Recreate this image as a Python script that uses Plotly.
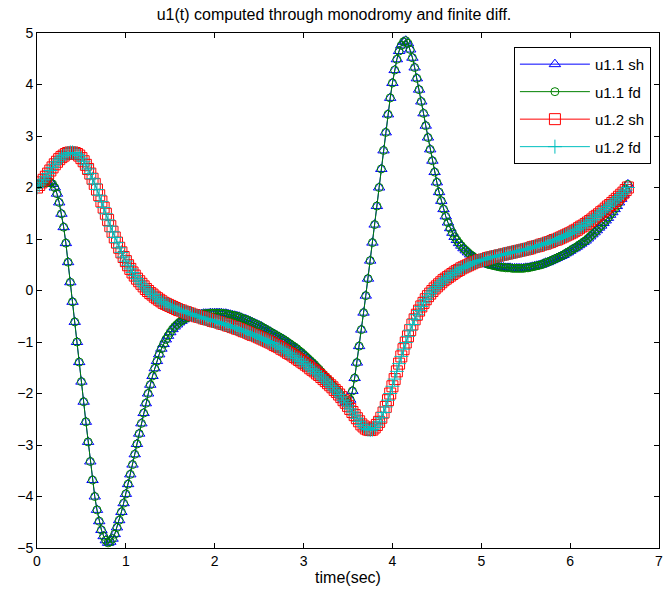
import numpy as np
import plotly.graph_objects as go

# sampling step of the time axis (seconds)
t_step = 0.025

# u1.1 (shooting / finite differences overlap)
u11 = [
    2.05, 2.06, 2.08, 2.09, 2.10, 2.10, 2.10, 2.07,
    2.00, 1.88, 1.71, 1.49, 1.23, 0.92, 0.55, 0.16,
    -0.22, -0.61, -1.00, -1.39, -1.77, -2.16, -2.55, -2.94,
    -3.32, -3.68, -4.00, -4.26, -4.48, -4.65, -4.77, -4.85,
    -4.90, -4.88, -4.82, -4.73, -4.60, -4.46, -4.30, -4.13,
    -3.95, -3.76, -3.57, -3.38, -3.18, -2.98, -2.78, -2.58,
    -2.38, -2.19, -2.00, -1.83, -1.66, -1.51, -1.37, -1.24,
    -1.13, -1.04, -0.95, -0.88, -0.81, -0.75, -0.70, -0.66,
    -0.62, -0.59, -0.56, -0.54, -0.52, -0.50, -0.49, -0.48,
    -0.47, -0.46, -0.46, -0.45, -0.45, -0.45, -0.44, -0.44,
    -0.44, -0.44, -0.44, -0.44, -0.45, -0.45, -0.46, -0.47,
    -0.48, -0.49, -0.50, -0.51, -0.53, -0.55, -0.56, -0.58,
    -0.60, -0.62, -0.64, -0.66, -0.68, -0.70, -0.73, -0.75,
    -0.78, -0.80, -0.83, -0.85, -0.88, -0.90, -0.93, -0.95,
    -0.98, -1.01, -1.04, -1.07, -1.10, -1.13, -1.17, -1.20,
    -1.24, -1.28, -1.32, -1.36, -1.40, -1.44, -1.49, -1.53,
    -1.58, -1.63, -1.68, -1.73, -1.78, -1.83, -1.88, -1.93,
    -1.98, -2.04, -2.10, -2.16, -2.18, -2.12, -1.95, -1.70,
    -1.40, -1.08, -0.76, -0.43, -0.10, 0.23, 0.58, 0.93,
    1.28, 1.64, 2.00, 2.36, 2.72, 3.07, 3.42, 3.74,
    4.03, 4.28, 4.49, 4.65, 4.76, 4.83, 4.85, 4.80,
    4.68, 4.52, 4.33, 4.12, 3.90, 3.67, 3.44, 3.20,
    2.97, 2.74, 2.52, 2.30, 2.10, 1.91, 1.74, 1.58,
    1.44, 1.32, 1.21, 1.12, 1.04, 0.98, 0.92, 0.87,
    0.82, 0.78, 0.74, 0.70, 0.67, 0.64, 0.61, 0.59,
    0.57, 0.55, 0.53, 0.51, 0.50, 0.49, 0.48, 0.47,
    0.46, 0.45, 0.45, 0.44, 0.44, 0.44, 0.43, 0.43,
    0.43, 0.43, 0.43, 0.43, 0.44, 0.44, 0.45, 0.46,
    0.47, 0.48, 0.49, 0.50, 0.52, 0.54, 0.55, 0.57,
    0.59, 0.61, 0.63, 0.65, 0.67, 0.69, 0.72, 0.74,
    0.77, 0.80, 0.82, 0.85, 0.88, 0.91, 0.94, 0.97,
    1.01, 1.05, 1.09, 1.13, 1.17, 1.22, 1.26, 1.31,
    1.36, 1.41, 1.47, 1.52, 1.58, 1.64, 1.71, 1.78,
    1.86, 1.96, 2.06,
]

# u1.2 (shooting / finite differences overlap)
u12 = [
    2.00, 2.05, 2.10, 2.15, 2.21, 2.27, 2.33, 2.39,
    2.45, 2.50, 2.55, 2.59, 2.62, 2.65, 2.67, 2.68,
    2.68, 2.67, 2.65, 2.62, 2.57, 2.51, 2.44, 2.36,
    2.27, 2.17, 2.07, 1.96, 1.85, 1.73, 1.61, 1.49,
    1.37, 1.25, 1.14, 1.03, 0.93, 0.83, 0.74, 0.65,
    0.57, 0.49, 0.42, 0.35, 0.29, 0.23, 0.18, 0.13,
    0.08, 0.03, -0.01, -0.05, -0.08, -0.12, -0.15, -0.18,
    -0.21, -0.24, -0.26, -0.28, -0.30, -0.32, -0.34, -0.36,
    -0.38, -0.39, -0.41, -0.42, -0.44, -0.45, -0.47, -0.48,
    -0.50, -0.51, -0.52, -0.54, -0.55, -0.56, -0.57, -0.59,
    -0.60, -0.61, -0.62, -0.64, -0.65, -0.66, -0.68, -0.69,
    -0.71, -0.72, -0.74, -0.75, -0.77, -0.79, -0.80, -0.82,
    -0.84, -0.86, -0.87, -0.89, -0.91, -0.93, -0.95, -0.97,
    -0.99, -1.01, -1.03, -1.06, -1.08, -1.10, -1.13, -1.15,
    -1.18, -1.21, -1.23, -1.26, -1.29, -1.32, -1.35, -1.38,
    -1.41, -1.44, -1.47, -1.51, -1.54, -1.57, -1.61, -1.64,
    -1.68, -1.72, -1.76, -1.80, -1.84, -1.88, -1.93, -1.97,
    -2.02, -2.07, -2.13, -2.18, -2.24, -2.30, -2.36, -2.42,
    -2.48, -2.54, -2.60, -2.64, -2.68, -2.70, -2.71, -2.70,
    -2.66, -2.61, -2.55, -2.47, -2.37, -2.26, -2.13, -2.00,
    -1.86, -1.72, -1.57, -1.42, -1.28, -1.14, -1.01, -0.89,
    -0.77, -0.66, -0.56, -0.47, -0.39, -0.31, -0.24, -0.17,
    -0.11, -0.06, -0.01, 0.04, 0.08, 0.12, 0.16, 0.20,
    0.23, 0.26, 0.29, 0.32, 0.35, 0.38, 0.40, 0.43,
    0.45, 0.47, 0.49, 0.51, 0.53, 0.55, 0.56, 0.58,
    0.59, 0.60, 0.61, 0.63, 0.64, 0.65, 0.66, 0.67,
    0.68, 0.69, 0.70, 0.71, 0.72, 0.73, 0.74, 0.75,
    0.76, 0.77, 0.78, 0.79, 0.80, 0.81, 0.82, 0.84,
    0.85, 0.86, 0.87, 0.89, 0.90, 0.91, 0.93, 0.94,
    0.96, 0.98, 0.99, 1.01, 1.03, 1.05, 1.07, 1.09,
    1.11, 1.13, 1.16, 1.18, 1.21, 1.24, 1.26, 1.29,
    1.32, 1.35, 1.38, 1.42, 1.45, 1.48, 1.52, 1.55,
    1.59, 1.63, 1.66, 1.70, 1.74, 1.78, 1.82, 1.86,
    1.90, 1.95, 2.00,
]

series_names = ["u1.1 sh", "u1.1 fd", "u1.2 sh", "u1.2 fd"]
x_ticks = [0, 1, 2, 3, 4, 5, 6, 7]
y_ticks = [-5, -4, -3, -2, -1, 0, 1, 2, 3, 4, 5]

t11 = np.arange(len(u11)) * t_step
t12 = np.arange(len(u12)) * t_step

styles = [
    (t11, u11, "#0000ff", "triangle-up-open", 10),
    (t11, u11, "#008000", "circle-open", 8),
    (t12, u12, "#ff0000", "square-open", 11),
    (t12, u12, "#00bfbf", "cross-thin-open", 10),
]

fig = go.Figure()
for i, (name, (tx, uy, col, sym, sz)) in enumerate(zip(series_names, styles)):
    fig.add_trace(go.Scatter(
        x=tx, y=uy, name=name, mode="lines+markers",
        legendgroup=name,
        line=dict(color=col, width=1),
        marker=dict(symbol=sym, size=sz, color=col, line=dict(width=1, color=col)),
    ))

font_family = "Liberation Sans, Arial, sans-serif"
fig.update_layout(
    width=666, height=590,
    margin=dict(l=37, r=3, t=33, b=42),
    paper_bgcolor="white", plot_bgcolor="white",
    font=dict(family=font_family, size=14, color="black"),
    title=dict(text="u1(t) computed through monodromy and finite diff.",
               x=334 / 666, xanchor="center", y=1 - 14 / 590, yanchor="middle",
               font=dict(size=16, color="black")),
    showlegend=True,
    legend=dict(x=0.987, y=0.973, xanchor="right", yanchor="top",
                bgcolor="white", bordercolor="black", borderwidth=1,
                font=dict(size=15), itemwidth=70, tracegroupgap=5),
)
fig.update_xaxes(range=[0, 7], tickvals=x_ticks, showgrid=False, zeroline=False,
                 showline=True, linecolor="black", linewidth=1, mirror="allticks",
                 ticks="inside", ticklen=5, tickcolor="black",
                 ticklabeloverflow="allow",
                 title=dict(text="time(sec)", standoff=4, font=dict(size=16)))
fig.update_yaxes(range=[-5, 5], tickvals=y_ticks, showgrid=False, zeroline=False,
                 showline=True, linecolor="black", linewidth=1, mirror="allticks",
                 ticks="inside", ticklen=5, tickcolor="black",
                 ticklabeloverflow="allow")

fig.write_html("out.html", config={"displayModeBar": False})

# remove the browser's default page margin so the figure sits at the window origin
with open("out.html", "r", encoding="utf-8") as fh:
    html = fh.read()
html = html.replace("<head>", "<head><style>html,body{margin:0;padding:0;}</style>", 1)
with open("out.html", "w", encoding="utf-8") as fh:
    fh.write(html)
